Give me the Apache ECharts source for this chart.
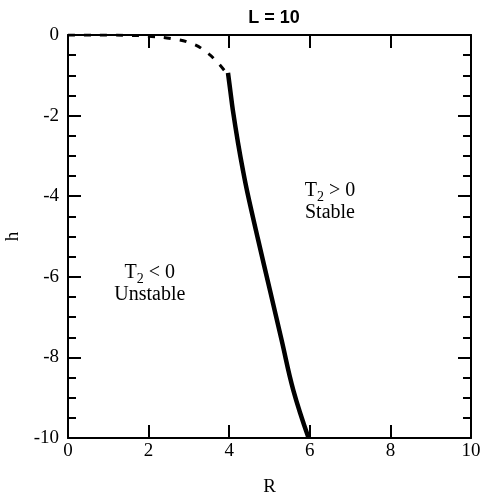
<!DOCTYPE html>
<html>
<head>
<meta charset="utf-8">
<script src="https://cdn.jsdelivr.net/npm/echarts@6/dist/echarts.min.js"></script>
<style>html,body{margin:0;padding:0;background:#fff;}#c{width:482px;height:497px;}</style>
</head>
<body>
<div id="c"></div>
<script>
var dashedR = [0, 0.5, 1, 1.5, 2, 2.62, 3.09, 3.4, 3.7, 3.97];
var dashedH = [0, 0, 0, -0.01, -0.03, -0.1, -0.22, -0.4, -0.67, -1.0];
var solidR = [3.97, 4.03, 4.09, 4.22, 4.34, 4.45, 4.72, 5.01, 5.30, 5.59, 5.97];
var solidH = [-0.94, -1.4, -1.86, -2.68, -3.35, -3.9, -5.09, -6.33, -7.57, -8.81, -10];
var xTicks = [0, 2, 4, 6, 8, 10];
var yTicks = [-10, -8, -6, -4, -2, 0];
var labels = [
  { r: 6.5, h: -4.15, text: '{t|T}{s|2}{t| > 0}\n{t|Stable}' },
  { r: 2.03, h: -6.18, text: '{t|T}{s|2}{t| < 0}\n{t|Unstable}' }
];

function zip(a, b) { return a.map(function (v, i) { return [v, b[i]]; }); }

var serif = '"Liberation Serif", "Times New Roman", serif';
var axisCommon = {
  type: 'value',
  axisLine: { show: true, onZero: false, lineStyle: { color: '#000', width: 2 } },
  axisTick: { show: true, inside: true, length: 13, lineStyle: { color: '#000', width: 2 } },
  splitLine: { show: false },
  axisLabel: { color: '#000', fontFamily: serif, fontSize: 19 }
};

var chart = echarts.init(document.getElementById('c'), null, { renderer: 'canvas' });
chart.setOption({
  animation: false,
  backgroundColor: '#fff',
  title: {
    text: 'L = 10', left: 269, top: 4, textAlign: 'center',
    textStyle: { fontFamily: '"Liberation Sans", Arial, sans-serif', fontWeight: 'bold', fontSize: 18, color: '#000' }
  },
  grid: { left: 68, right: 11, top: 35, bottom: 59, containLabel: false, outerBoundsMode: 'none' },
  xAxis: [
    Object.assign({}, axisCommon, {
      min: 0, max: 10, interval: 2, position: 'bottom',
      name: 'R', nameLocation: 'middle', nameGap: 40,
      nameTextStyle: { fontFamily: serif, fontSize: 19, color: '#000' },
      axisLabel: Object.assign({}, axisCommon.axisLabel, { margin: 4,
        formatter: function (v) { return xTicks.indexOf(v) >= 0 ? String(v) : ''; } })
    }),
    Object.assign({}, axisCommon, {
      min: 0, max: 10, interval: 2, position: 'top', axisLabel: { show: false }
    })
  ],
  yAxis: [
    Object.assign({}, axisCommon, {
      min: -10, max: 0, interval: 2, position: 'left',
      name: 'h', nameLocation: 'middle', nameGap: 42,
      nameTextStyle: { fontFamily: serif, fontSize: 19, color: '#000' },
      minorTick: { show: true, splitNumber: 4, length: 8, lineStyle: { color: '#000', width: 2 } },
      axisLabel: Object.assign({}, axisCommon.axisLabel, { margin: 9,
        formatter: function (v) { return yTicks.indexOf(v) >= 0 ? String(v) : ''; } })
    }),
    Object.assign({}, axisCommon, {
      min: -10, max: 0, interval: 2, position: 'right', axisLabel: { show: false },
      minorTick: { show: true, splitNumber: 4, length: 8, lineStyle: { color: '#000', width: 2 } }
    })
  ],
  series: [
    {
      type: 'line', data: zip(dashedR, dashedH), smooth: true, symbol: 'none',
      lineStyle: { color: '#000', width: 3, type: [7, 9] }
    },
    {
      type: 'line', data: zip(solidR, solidH), smooth: 0.4, symbol: 'none',
      lineStyle: { color: '#000', width: 4.5 }
    },
    {
      type: 'scatter', symbolSize: 0, silent: true,
      itemStyle: { opacity: 1, color: '#000' },
      data: labels.map(function (l) { return { value: [l.r, l.h], text: l.text }; }),
      label: {
        show: true, position: 'inside', align: 'center', verticalAlign: 'middle',
        color: '#000', textBorderWidth: 0, opacity: 1,
        formatter: function (p) { return p.data.text; },
        lineHeight: 22,
        rich: {
          t: { fontFamily: serif, fontSize: 20, color: '#000', lineHeight: 22, textBorderWidth: 0 },
          s: { fontFamily: serif, fontSize: 14, color: '#000', padding: [12, 0, 0, 0], lineHeight: 22, textBorderWidth: 0 }
        }
      }
    }
  ]
});
</script>
</body>
</html>
